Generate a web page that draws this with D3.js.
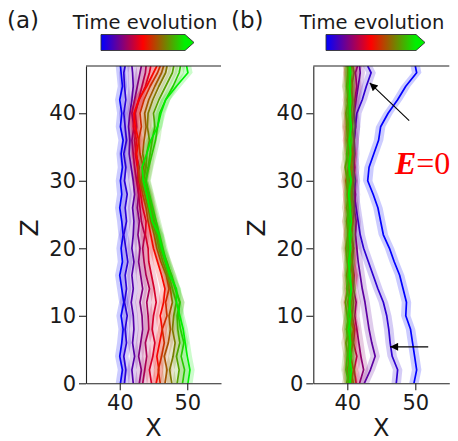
<!DOCTYPE html>
<html>
<head>
<meta charset="utf-8">
<script src="https://cdn.jsdelivr.net/npm/d3@7"></script>
<style>
  body { margin: 0; background: #fff; }
  text { font-family: "DejaVu Sans", sans-serif; fill: #1a1a1a; }
</style>
</head>
<body>
<script>
// Z positions where every trajectory is sampled
var zLevels = [0, 2, 4, 6, 8, 10, 12, 14, 16, 18, 20, 22, 24, 26, 28, 30, 32, 34, 36, 38, 40, 42, 44, 46, 47];

var xTicks = [40, 50];
var zTicks = [0, 10, 20, 30, 40];
var panelLabels = ['(a)', '(b)'];
var colorbarTitle = 'Time evolution';

// Panel (a): X(Z) for each snapshot, earliest (blue) first, latest (green) last
var linesA = [
  [40.1, 40.4, 40.0, 40.3, 40.5, 40.2, 40.6, 40.3, 40.0, 40.4, 40.2, 40.5, 40.3, 40.0, 40.3, 40.1, 40.4, 40.2, 40.5, 40.1, 40.3, 40.0, 40.4, 40.2, 40.1],
  [40.7, 40.9, 40.6, 41.0, 40.8, 41.1, 40.7, 41.0, 40.8, 41.2, 40.9, 40.6, 41.0, 40.8, 41.1, 40.7, 40.9, 40.6, 41.0, 40.8, 40.6, 40.9, 40.7, 40.6, 40.8],
  [42.0, 41.8, 42.2, 41.9, 42.1, 42.0, 41.7, 42.0, 41.8, 42.1, 41.8, 42.0, 42.1, 41.9, 42.2, 42.0, 41.7, 41.4, 41.5, 41.3, 41.5, 41.8, 42.0, 41.9, 41.8],
  [42.9, 43.2, 42.8, 43.1, 43.4, 43.3, 43.0, 43.4, 43.1, 42.8, 43.0, 42.7, 42.9, 42.6, 42.8, 42.5, 42.2, 42.0, 41.8, 42.1, 41.8, 42.2, 42.6, 43.0, 43.2],
  [43.4, 43.7, 44.0, 43.8, 44.3, 44.2, 44.0, 44.4, 43.9, 43.6, 43.4, 43.7, 43.2, 43.0, 42.8, 42.6, 42.9, 42.4, 42.2, 42.5, 42.3, 42.8, 43.3, 43.8, 43.9],
  [44.7, 44.4, 44.9, 45.2, 44.8, 45.0, 45.4, 45.1, 44.7, 44.3, 44.2, 43.8, 43.9, 43.4, 43.1, 42.8, 42.6, 42.3, 42.5, 42.0, 42.2, 42.9, 43.8, 44.4, 44.6],
  [45.4, 45.8, 45.5, 45.9, 46.3, 46.0, 46.5, 46.7, 46.2, 45.6, 45.0, 44.6, 44.2, 43.9, 43.4, 43.0, 42.7, 42.5, 42.8, 42.3, 42.1, 42.8, 44.0, 45.0, 45.5],
  [46.0, 45.7, 46.2, 46.6, 46.3, 47.0, 46.8, 47.3, 46.9, 46.1, 45.5, 45.1, 44.6, 44.2, 43.7, 43.2, 43.5, 43.0, 42.8, 43.2, 43.0, 43.6, 44.5, 45.6, 46.0],
  [46.7, 47.0, 46.6, 47.2, 47.5, 47.3, 47.8, 47.5, 47.1, 46.4, 45.8, 45.4, 44.8, 44.5, 44.0, 43.5, 43.8, 43.4, 43.6, 43.9, 43.7, 44.3, 45.2, 46.2, 46.5],
  [47.7, 47.4, 47.9, 48.2, 47.8, 48.0, 48.4, 47.8, 47.3, 46.7, 46.0, 45.6, 45.0, 44.6, 44.2, 43.5, 43.9, 44.0, 44.4, 44.1, 44.2, 44.9, 45.8, 46.8, 47.0],
  [48.5, 48.8, 48.4, 48.9, 48.6, 48.5, 48.9, 48.2, 47.6, 47.0, 46.2, 45.8, 45.2, 44.7, 44.3, 43.8, 44.2, 44.5, 44.8, 45.2, 45.0, 45.8, 46.8, 47.8, 48.0],
  [49.3, 49.6, 49.1, 49.5, 49.0, 48.7, 48.9, 48.3, 47.7, 46.9, 46.4, 45.9, 45.4, 44.9, 44.4, 43.9, 44.3, 44.8, 45.3, 45.6, 45.9, 46.8, 47.9, 48.8, 49.0],
  [50.1, 50.4, 50.0, 49.7, 49.4, 48.9, 48.4, 48.4, 47.4, 46.8, 46.2, 45.8, 44.8, 44.4, 44.0, 43.5, 43.3, 44.0, 44.6, 45.6, 46.1, 46.8, 48.4, 50.1, 49.9]
];

// Panel (b): same layout, E = 0 case
var linesB = [
  [49.8, 50.2, 49.9, 49.6, 49.3, 48.6, 48.7, 48.2, 47.7, 46.9, 46.2, 45.3, 44.9, 44.5, 43.8, 43.0, 43.2, 43.9, 44.6, 44.9, 46.0, 47.4, 48.6, 50.2, 50.0],
  [47.2, 47.4, 46.6, 46.3, 46.1, 45.8, 45.3, 44.5, 43.8, 43.1, 42.4, 41.9, 41.6, 41.3, 41.0, 41.2, 40.9, 41.1, 41.0, 41.2, 41.4, 42.2, 42.8, 43.5, 43.0],
  [42.5, 43.4, 44.1, 43.6, 43.2, 42.9, 42.6, 42.2, 41.9, 41.6, 41.4, 41.2, 41.3, 41.0, 41.2, 40.9, 41.1, 40.8, 41.0, 41.2, 41.0, 41.3, 41.6, 41.9, 41.8],
  [41.8, 42.4, 42.0, 41.7, 41.4, 41.1, 41.3, 40.9, 41.0, 40.7, 40.9, 40.6, 40.8, 41.0, 40.7, 40.9, 40.6, 40.8, 41.0, 40.7, 40.9, 41.1, 41.4, 41.2, 41.5],
  [41.3, 41.0, 41.4, 40.9, 41.1, 40.7, 40.9, 40.6, 40.8, 40.5, 40.9, 40.6, 40.4, 40.7, 40.5, 40.8, 40.4, 40.6, 40.3, 40.7, 40.5, 40.8, 40.6, 41.0, 40.8],
  [40.6, 40.9, 40.5, 40.8, 40.4, 40.7, 40.3, 40.6, 40.9, 40.4, 40.2, 40.6, 40.8, 40.3, 40.6, 40.2, 40.5, 40.8, 40.4, 40.1, 40.5, 40.3, 40.7, 40.4, 40.6],
  [40.9, 40.5, 40.2, 40.6, 40.9, 40.4, 40.1, 40.5, 40.3, 40.7, 40.4, 40.1, 40.5, 40.2, 40.0, 40.4, 40.7, 40.3, 40.0, 40.4, 40.2, 40.6, 40.3, 40.1, 40.3],
  [40.3, 40.0, 40.4, 40.2, 39.9, 40.3, 40.6, 40.2, 39.9, 40.2, 40.5, 40.2, 39.9, 40.3, 40.1, 39.8, 40.2, 40.5, 40.1, 39.9, 40.3, 40.0, 40.4, 40.2, 40.0],
  [39.9, 40.3, 40.1, 39.8, 40.2, 40.0, 39.7, 40.1, 40.4, 40.0, 39.8, 40.1, 40.3, 39.9, 40.2, 40.0, 39.7, 40.1, 40.3, 40.0, 39.8, 40.2, 39.9, 40.1, 40.3],
  [40.2, 39.8, 40.0, 40.3, 39.9, 40.2, 40.4, 39.9, 40.1, 40.4, 40.0, 40.3, 40.0, 40.2, 40.4, 40.1, 40.3, 39.9, 40.2, 40.4, 40.1, 40.3, 40.0, 40.3, 40.1],
  [40.5, 40.2, 40.6, 40.3, 40.5, 40.1, 40.4, 40.6, 40.2, 40.5, 40.3, 40.6, 40.2, 40.5, 40.3, 40.6, 40.2, 40.4, 40.6, 40.3, 40.5, 40.2, 40.5, 40.3, 40.4],
  [40.4, 40.6, 40.3, 40.5, 40.2, 40.5, 40.3, 40.6, 40.4, 40.2, 40.5, 40.3, 40.6, 40.4, 40.2, 40.5, 40.3, 40.5, 40.3, 40.6, 40.4, 40.5, 40.3, 40.5, 40.4]
];

// Annotations for panel (b), in data units (X, Z)
var arrowsB = [
  { from: [49.1, 38.9], to: [43.3, 44.5] },
  { from: [51.9, 5.4], to: [46.3, 5.4] }
];
var fieldLabel = { x: 47.0, z: 31.0, symbol: 'E', rest: '=0' };

// SVG size
var svg_width = 458;
var svg_height = 441;

// Plot area shared by both panels
var plot_top = 66;
var plot_bottom = 383.3;
var band_half = 0.7; // half-width of the shaded band, in X units

var panels = [
  { name: 'a', left: 86, right: 221, lines: linesA, labelX: 7, titleX: 145, barX0: 101, barX1: 185, barTip: 194, zLabelX: 29 },
  { name: 'b', left: 313.3, right: 449.3, lines: linesB, labelX: 231, titleX: 372, barX0: 326, barX1: 416, barTip: 425, zLabelX: 256 }
];

// blue -> red -> green colour map for time
var timeColor = d3.scaleLinear()
  .domain([0, 0.5, 1])
  .range(['#0000ff', '#ff0000', '#00f000'])
  .interpolate(d3.interpolateRgb);

var svg = d3.select('body').append('svg')
  .attr('width', svg_width)
  .attr('height', svg_height);

var defs = svg.append('defs');

// Arrow head marker
defs.append('marker')
  .attr('id', 'arrowhead')
  .attr('viewBox', '0 0 10 10')
  .attr('refX', 10)
  .attr('refY', 5)
  .attr('markerUnits', 'userSpaceOnUse')
  .attr('markerWidth', 10)
  .attr('markerHeight', 8)
  .attr('orient', 'auto')
  .append('path')
  .attr('d', 'M0,0 L10,5 L0,10 Z')
  .attr('fill', '#000');

var zScale = d3.scaleLinear().domain([0, 47]).range([plot_bottom, plot_top]);

panels.forEach(function(p, pi) {
  var xScale = d3.scaleLinear().domain([35, 55]).range([p.left, p.right]);

  // Clip lines to the plot area
  defs.append('clipPath')
    .attr('id', 'clip-' + p.name)
    .append('rect')
    .attr('x', p.left)
    .attr('y', plot_top)
    .attr('width', p.right - p.left)
    .attr('height', plot_bottom - plot_top);

  var g = svg.append('g').attr('clip-path', 'url(#clip-' + p.name + ')');

  var band = d3.area()
    .y(function(d, i) { return zScale(zLevels[i]); })
    .x0(function(d) { return xScale(d - band_half); })
    .x1(function(d) { return xScale(d + band_half); });

  var line = d3.line()
    .y(function(d, i) { return zScale(zLevels[i]); })
    .x(function(d) { return xScale(d); });

  var n = p.lines.length;
  p.lines.forEach(function(vals, i) {
    var col = timeColor(i / (n - 1));
    g.append('path')
      .attr('d', band(vals))
      .attr('fill', col)
      .attr('fill-opacity', 0.2);
    g.append('path')
      .attr('d', line(vals))
      .attr('fill', 'none')
      .attr('stroke', col)
      .attr('stroke-width', 1.7)
      .attr('stroke-linejoin', 'round');
  });

  // Axes (left and bottom), plus the top spine
  var yAxis = svg.append('g')
    .attr('transform', 'translate(' + p.left + ',0)')
    .call(d3.axisLeft(zScale).tickValues(zTicks).tickSize(7).tickSizeOuter(0).tickPadding(3));
  var xAxis = svg.append('g')
    .attr('transform', 'translate(0,' + plot_bottom + ')')
    .call(d3.axisBottom(xScale).tickValues(xTicks).tickSize(7).tickSizeOuter(0).tickPadding(5));
  [yAxis, xAxis].forEach(function(ax) {
    ax.selectAll('text').style('font-size', '21px').attr('fill', '#1a1a1a');
    ax.selectAll('line, path').attr('stroke', '#222').attr('stroke-width', 1.1);
  });

  svg.append('line')
    .attr('x1', p.left)
    .attr('x2', p.right)
    .attr('y1', plot_top)
    .attr('y2', plot_top)
    .attr('stroke', '#222')
    .attr('stroke-width', 1.1);

  // Axis titles
  svg.append('text')
    .attr('x', (p.left + p.right) / 2)
    .attr('y', 436)
    .attr('text-anchor', 'middle')
    .style('font-size', '24px')
    .text('X');

  svg.append('text')
    .attr('transform', 'translate(' + (p.zLabelX + 9) + ',228) rotate(-90)')
    .attr('text-anchor', 'middle')
    .style('font-size', '25px')
    .text('Z');

  // Panel label
  svg.append('text')
    .attr('x', p.labelX)
    .attr('y', 28)
    .style('font-size', '23px')
    .text(panelLabels[pi]);

  // Colour bar with an extend triangle on the right
  var grad = defs.append('linearGradient')
    .attr('id', 'grad-' + p.name)
    .attr('gradientUnits', 'userSpaceOnUse')
    .attr('x1', p.barX0)
    .attr('x2', p.barX1)
    .attr('y1', 0)
    .attr('y2', 0);
  d3.range(0, 1.0001, 0.1).forEach(function(t) {
    grad.append('stop')
      .attr('offset', t)
      .attr('stop-color', timeColor(t));
  });

  var by0 = 34.5, by1 = 50.5;
  svg.append('path')
    .attr('d', 'M' + p.barX0 + ',' + by0 + ' H' + p.barX1 + ' L' + p.barTip + ',' + ((by0 + by1) / 2) +
      ' L' + p.barX1 + ',' + by1 + ' H' + p.barX0 + ' Z')
    .attr('fill', 'url(#grad-' + p.name + ')')
    .attr('stroke', '#333')
    .attr('stroke-width', 0.9);

  svg.append('text')
    .attr('x', p.titleX)
    .attr('y', 29)
    .attr('text-anchor', 'middle')
    .style('font-size', '19.5px')
    .text(colorbarTitle);

  // Annotations only on panel (b)
  if (p.name === 'b') {
    arrowsB.forEach(function(a) {
      svg.append('line')
        .attr('x1', xScale(a.from[0]))
        .attr('y1', zScale(a.from[1]))
        .attr('x2', xScale(a.to[0]))
        .attr('y2', zScale(a.to[1]))
        .attr('stroke', '#000')
        .attr('stroke-width', 1.1)
        .attr('marker-end', 'url(#arrowhead)');
    });

    var lab = svg.append('text')
      .attr('x', xScale(fieldLabel.x))
      .attr('y', zScale(fieldLabel.z))
      .style('font-family', '"Liberation Serif", serif')
      .style('font-size', '32px')
      .style('fill', '#ff0000');
    lab.append('tspan')
      .style('font-weight', 'bold')
      .style('font-style', 'italic')
      .style('fill', '#ff0000')
      .text(fieldLabel.symbol);
    lab.append('tspan')
      .style('fill', '#ff0000')
      .text(fieldLabel.rest);
  }
});
</script>
</body>
</html>
